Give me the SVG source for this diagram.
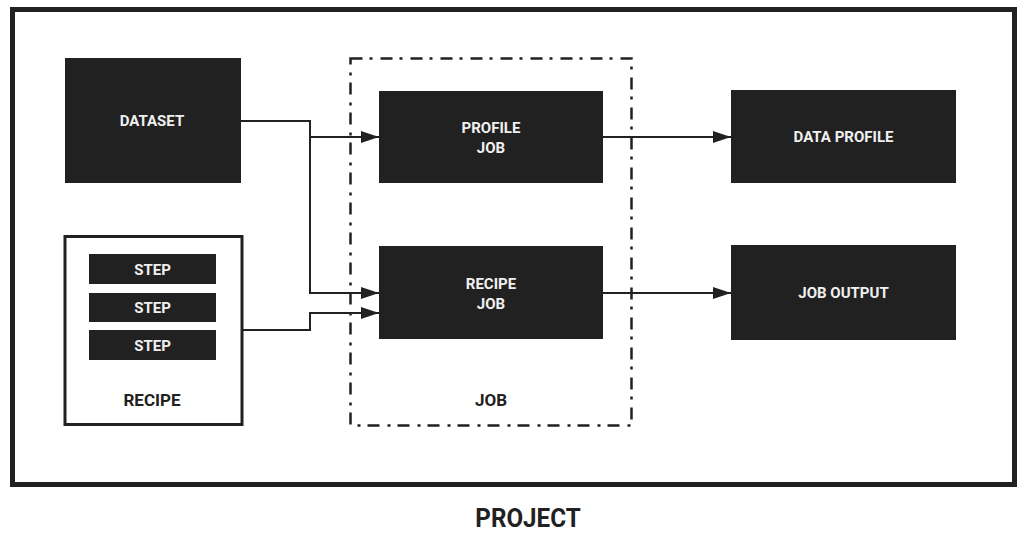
<svg xmlns="http://www.w3.org/2000/svg" width="1026" height="539" viewBox="0 0 1026 539">
<style>
.box{fill:#212121;}
.lbl{font-family:Roboto,"Liberation Sans",sans-serif;font-weight:bold;font-size:15px;fill:#f0f0f0;text-anchor:middle;}
.dark{font-family:Roboto,"Liberation Sans",sans-serif;font-weight:bold;fill:#212121;text-anchor:middle;}
.conn{fill:none;stroke:#212121;stroke-width:2;}
</style>
<defs>
<marker id="arr" markerUnits="userSpaceOnUse" markerWidth="18" markerHeight="12" refX="18" refY="6" orient="auto">
<path d="M0,0 L18,6 L0,12 z" fill="#212121"/>
</marker>
</defs>
<rect width="1026" height="539" fill="#ffffff"/>
<g id="project">
<rect x="12.5" y="9.5" width="1002" height="475" fill="none" stroke="#212121" stroke-width="5"/>
<text class="dark" x="528" y="527" font-size="26" transform="translate(528 0) scale(0.93 1) translate(-528 0)">PROJECT</text>
</g>
<g id="job-frame">
<rect x="350.5" y="58.5" width="281" height="367" fill="none" stroke="#212121" stroke-width="2.5" stroke-dasharray="12 7 3 8"/>
<text class="dark" x="491" y="406" font-size="17">JOB</text>
</g>
<g id="dataset">
<rect class="box" x="65" y="58" width="176" height="125"/>
<text class="lbl" x="152" y="126">DATASET</text>
</g>
<g id="recipe">
<rect x="65" y="236.5" width="177" height="188" fill="#ffffff" stroke="#212121" stroke-width="3"/>
<g id="step1"><rect class="box" x="89" y="254" width="127" height="30"/><text class="lbl" x="152.5" y="274.5">STEP</text></g>
<g id="step2"><rect class="box" x="89" y="293" width="127" height="29"/><text class="lbl" x="152.5" y="313">STEP</text></g>
<g id="step3"><rect class="box" x="89" y="330" width="127" height="30"/><text class="lbl" x="152.5" y="350.5">STEP</text></g>
<text class="dark" x="152" y="406" font-size="17">RECIPE</text>
</g>
<g id="profile-job">
<rect class="box" x="379" y="91" width="224" height="92"/>
<text class="lbl" x="491" y="133">PROFILE</text>
<text class="lbl" x="491" y="153">JOB</text>
</g>
<g id="recipe-job">
<rect class="box" x="379" y="246" width="224" height="93"/>
<text class="lbl" x="491" y="289">RECIPE</text>
<text class="lbl" x="491" y="309">JOB</text>
</g>
<g id="data-profile">
<rect class="box" x="731" y="90" width="225" height="93"/>
<text class="lbl" x="843.5" y="142">DATA PROFILE</text>
</g>
<g id="job-output">
<rect class="box" x="731" y="245" width="225" height="95"/>
<text class="lbl" x="843.5" y="298">JOB OUTPUT</text>
</g>
<g id="connectors">
<path class="conn" d="M241,121 H310 V293 H379" marker-end="url(#arr)"/>
<path class="conn" d="M310,137 H379" marker-end="url(#arr)"/>
<path class="conn" d="M242,330 H310 V313 H379" marker-end="url(#arr)"/>
<path class="conn" d="M603,137 H731" marker-end="url(#arr)"/>
<path class="conn" d="M603,293 H731" marker-end="url(#arr)"/>
</g>
</svg>
